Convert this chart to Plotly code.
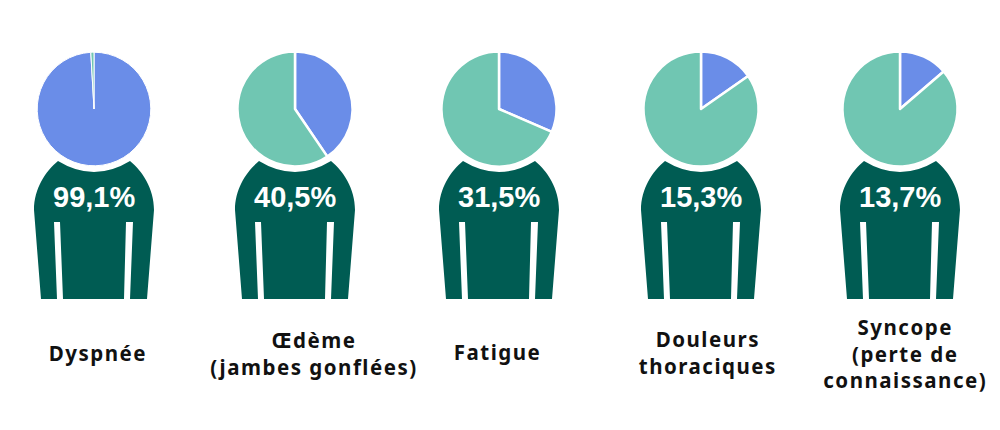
import plotly.graph_objects as go

categories = ["Dyspnée", "Œdème<br>(jambes gonflées)", "Fatigue", "Douleurs<br>thoraciques", "Syncope<br>(perte de<br>connaissance)"]
affected = [99.1, 40.5, 31.5, 15.3, 13.7]
value_labels = ["99,1%", "40,5%", "31,5%", "15,3%", "13,7%"]

BLUE = "#6A8DE8"
GREEN = "#70C6B2"
DARK = "#005C53"
W, H = 1000, 430
centers_x = [94, 295, 499, 701, 900]
label_x = [98, 314, 497, 708, 905]
label_y = [353, 353, 352, 352, 353]
gap_widths = [1, 2.5, 2.5, 2.5, 2.5]
PIE_CY, PIE_R = 109, 56.3


def px(x):
    return x / W


def py(y):
    return 1 - y / H


def body_path(c):
    pts = [
        ("M", c - 36, 161), ("Q", c, 183), ("", c + 36, 161),
        ("C", c + 48, 171), ("", c + 60, 188), ("", c + 60, 210),
        ("L", c + 53, 299), ("L", c + 36, 299), ("L", c + 39, 222), ("L", c + 32, 222),
        ("L", c + 30, 299), ("L", c - 31, 299), ("L", c - 34, 222), ("L", c - 40, 222),
        ("L", c - 37, 299), ("L", c - 53, 299), ("L", c - 60, 210),
        ("C", c - 60, 188), ("", c - 48, 171), ("", c - 36, 161),
    ]
    return " ".join(f"{k}{px(x):.5f},{py(y):.5f}" for k, x, y in pts) + " Z"


fig = go.Figure()
shapes, annotations = [], []
for cat, val, lab, cx, lx, ly, gw in zip(categories, affected, value_labels, centers_x, label_x, label_y, gap_widths):
    r = PIE_R + gw / 2
    fig.add_trace(go.Pie(
        values=[val, 100 - val],
        sort=False,
        direction="clockwise",
        rotation=0,
        textinfo="none",
        hoverinfo="skip",
        showlegend=False,
        marker=dict(colors=[BLUE, GREEN], line=dict(color="white", width=gw)),
        domain=dict(x=[px(cx - r), px(cx + r)], y=[py(PIE_CY + r), py(PIE_CY - r)]),
    ))
    shapes.append(dict(type="path", xref="paper", yref="paper", path=body_path(cx), fillcolor=DARK, line=dict(width=0)))
    annotations.append(dict(x=px(cx), y=py(197), xref="paper", yref="paper", text=f"<b>{lab}</b>", showarrow=False,
                            font=dict(family="Liberation Sans", size=29, color="white"), xanchor="center", yanchor="middle"))
    annotations.append(dict(x=px(lx), y=py(ly), xref="paper", yref="paper", text=f"<b>{cat}</b>", showarrow=False,
                            font=dict(family="Noto Sans", size=20.5, color="#111111"), xanchor="center", yanchor="middle", align="center"))

fig.update_layout(width=W, height=H, autosize=False, margin=dict(l=0, r=0, t=0, b=0),
                  paper_bgcolor="white", plot_bgcolor="white", shapes=shapes, annotations=annotations)
fig.write_html(
    "out.html",
    config={"displayModeBar": False},
    post_script=(
        "document.body.style.margin='0';"
        "document.querySelectorAll('.annotation-text').forEach(function(t){"
        "if(t.textContent.indexOf('%')<0){t.style.letterSpacing='1.5px';}});"
    ),
)
